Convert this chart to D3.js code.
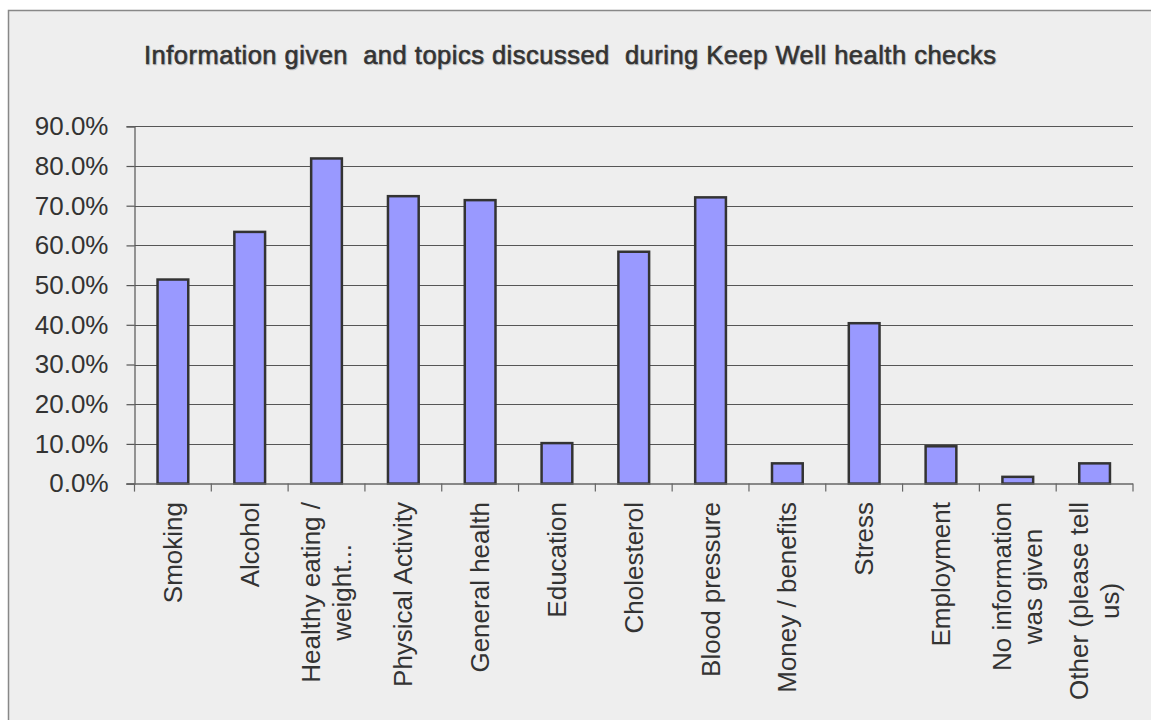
<!DOCTYPE html>
<html>
<head>
<meta charset="utf-8">
<script src="https://cdn.jsdelivr.net/npm/d3@7"></script>
<style>
  html, body { margin: 0; padding: 0; background: #ffffff; }
  svg { display: block; }
  text { font-family: "Liberation Sans", Arial, sans-serif; fill: #333333; }
</style>
</head>
<body>
<svg id="chart" width="1151" height="720"></svg>
<script>
// Share of respondents for each topic raised during the health check
const categories = [
  "Smoking", "Alcohol", "Healthy eating / weight...", "Physical Activity",
  "General health", "Education", "Cholesterol", "Blood pressure",
  "Money / benefits", "Stress", "Employment", "No information was given",
  "Other (please tell us)"
];
// Wrapped lines used for the rotated category labels
const labelLines = [
  ["Smoking"], ["Alcohol"], ["Healthy eating /", "weight..."], ["Physical Activity"],
  ["General health"], ["Education"], ["Cholesterol"], ["Blood pressure"],
  ["Money / benefits"], ["Stress"], ["Employment"], ["No information", "was given"],
  ["Other (please tell", "us)"]
];
const values = [51.4, 63.4, 81.9, 72.4, 71.4, 10.2, 58.4, 72.1, 5.1, 40.4, 9.4, 1.7, 5.1];
const yTicks = [0, 10, 20, 30, 40, 50, 60, 70, 80, 90];
const titleText = "Information given  and topics discussed  during Keep Well health checks";

const svg = d3.select("#chart");

// Chart area panel
svg.append("rect")
  .attr("x", 8.5).attr("y", 10.5)
  .attr("width", 1151).attr("height", 720)
  .attr("fill", "#eeeeee")
  .attr("stroke", "#888888").attr("stroke-width", 1.5);

// Title with a faint drop shadow, slightly emboldened
const title = svg.append("g");
[[145, 64.5, "#c8c8c8"], [144, 63.5, "#333333"]].forEach(([tx, ty, col]) => {
  title.append("text")
    .attr("x", tx).attr("y", ty)
    .style("white-space", "pre")
    .style("fill", col)
    .attr("stroke", col).attr("stroke-width", 0.6)
    .attr("font-size", 25.5)
    .attr("textLength", 852).attr("lengthAdjust", "spacing")
    .text(titleText);
});

const plotLeft = 134.5, plotRight = 1133, plotTop = 126.3, plotBottom = 483.6;

const x = d3.scaleBand().domain(categories).range([plotLeft, plotRight]).paddingInner(0).paddingOuter(0);
const y = d3.scaleLinear().domain([0, 90]).range([plotBottom, plotTop]);

// Horizontal gridlines
svg.append("g")
  .selectAll("line")
  .data(yTicks.filter(d => d > 0))
  .join("line")
  .attr("x1", plotLeft).attr("x2", plotRight)
  .attr("y1", d => Math.round(y(d)) + 0.5).attr("y2", d => Math.round(y(d)) + 0.5)
  .attr("stroke", "#555555").attr("stroke-width", 1.2);

// Y axis
const yAxis = svg.append("g")
  .attr("transform", `translate(${plotLeft},0)`)
  .call(d3.axisLeft(y).tickValues(yTicks).tickSize(8).tickPadding(18)
    .tickFormat(d => d3.format(".1f")(d) + "%"));
yAxis.select(".domain").attr("stroke", "#555555").attr("stroke-width", 1.2);
yAxis.selectAll(".tick line").attr("stroke", "#555555").attr("stroke-width", 1.2);
yAxis.selectAll(".tick text")
  .attr("font-size", 26)
  .attr("font-family", "Liberation Sans, Arial, sans-serif")
  .style("fill", "#333333");

// Bars
svg.append("g")
  .selectAll("rect")
  .data(values)
  .join("rect")
  .attr("x", (d, i) => x(categories[i]) + x.bandwidth() * 0.3)
  .attr("width", x.bandwidth() * 0.4)
  .attr("y", d => y(d))
  .attr("height", d => y(0) - y(d))
  .attr("fill", "#9999ff")
  .attr("stroke", "#333333").attr("stroke-width", 2.5);

// X axis with ticks at category boundaries
const xAxis = svg.append("g").attr("transform", `translate(0,${plotBottom})`);
xAxis.append("line")
  .attr("x1", plotLeft - 8).attr("x2", plotRight)
  .attr("y1", 0.5).attr("y2", 0.5)
  .attr("stroke", "#666666").attr("stroke-width", 1.5);
const bounds = categories.map(c => x(c)).concat([plotRight]);
xAxis.selectAll("line.tick")
  .data(bounds)
  .join("line")
  .attr("class", "tick")
  .attr("x1", d => d).attr("x2", d => d)
  .attr("y1", 0).attr("y2", 8)
  .attr("stroke", "#666666").attr("stroke-width", 1.2);

// Rotated category labels; wrapped lines centred on each other
const labelTop = 502;
const fs = 26, lineH = 31;
categories.forEach((c, i) => {
  const lines = labelLines[i];
  const cx = x(c) + x.bandwidth() / 2;
  const g = svg.append("g").attr("transform", `translate(${cx},${labelTop}) rotate(-90)`);
  const texts = lines.map((ln, j) => g.append("text")
    .attr("font-size", fs)
    .attr("text-anchor", "middle")
    .attr("y", (j - (lines.length - 1) / 2) * lineH)
    .attr("dy", "0.35em")
    .text(ln));
  const w = d3.max(texts, t => t.node().getComputedTextLength());
  texts.forEach(t => t.attr("x", -w / 2));
});
</script>
</body>
</html>
